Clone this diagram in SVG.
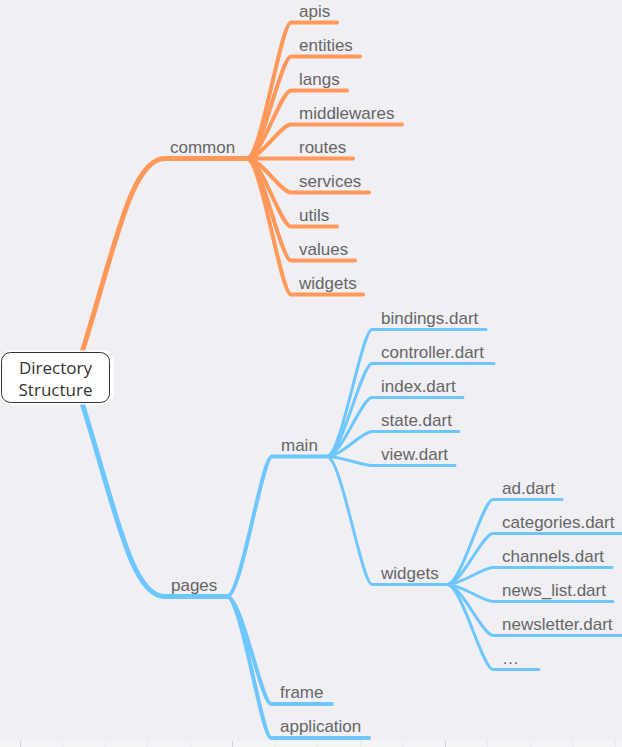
<svg xmlns="http://www.w3.org/2000/svg" width="622" height="747" viewBox="0 0 622 747">
<style>
.bg{fill:#f0eff4}
.c{fill:none;stroke-linecap:round;stroke-linejoin:round}
.o1{stroke:#ff9859;stroke-width:5}
.o2{stroke:#ff9859;stroke-width:4}
.b1{stroke:#6ec6ff;stroke-width:5}
.b2{stroke:#6ec6ff;stroke-width:4}
.b3{stroke:#6ec6ff;stroke-width:3}
.t{font-family:"Liberation Sans",Arial,sans-serif;font-size:17px;fill:#666}
.rt{font-family:"Open Sans","Noto Sans",sans-serif;font-size:17px;fill:#333;text-anchor:middle}
.tick{stroke:#e9e9ed;stroke-width:1}
.tickm{stroke:#d2d2d7;stroke-width:1}
</style>
<rect class="bg" x="0" y="0" width="622" height="747"/>
<g id="ruler">
<rect x="0" y="741" width="622" height="6" fill="#f5f5f7"/>
<path class="tickm" d="M20.5 741V747M232.5 741V747M445.5 741V747"/>
<path class="tick" d="M62.5 741V747M105.5 741V747M147.5 741V747M190.5 741V747M275.5 741V747M317.5 741V747M360.5 741V747M402.5 741V747M487.5 741V747M530.5 741V747M572.5 741V747M615.5 741V747"/>
</g>
<g id="connectors">
<path class="c o1" d="M78 365C115 250 130 158.5 165 158.5L247 158.5"/>
<path class="c o2" d="M247 158.5C261.1 158.5 280.9 22.5 291 22.5L337 22.5"/>
<path class="c o2" d="M247 158.5C261.1 158.5 280.9 56.5 291 56.5L360 56.5"/>
<path class="c o2" d="M247 158.5C261.1 158.5 280.9 90.5 291 90.5L347 90.5"/>
<path class="c o2" d="M247 158.5C261.1 158.5 280.9 124.5 291 124.5L402 124.5"/>
<path class="c o2" d="M247 158.5L353 158.5"/>
<path class="c o2" d="M247 158.5C261.1 158.5 280.9 192.5 291 192.5L369 192.5"/>
<path class="c o2" d="M247 158.5C261.1 158.5 280.9 226.5 291 226.5L337 226.5"/>
<path class="c o2" d="M247 158.5C261.1 158.5 280.9 260.5 291 260.5L355 260.5"/>
<path class="c o2" d="M247 158.5C261.1 158.5 280.9 294.5 291 294.5L363 294.5"/>
<path class="c b1" d="M78 390C115 505 130 596.5 165 596.5L227 596.5"/>
<path class="c b2" d="M227 596.5C241.4 596.5 261.7 456.5 272 456.5L327 456.5"/>
<path class="c b2" d="M227 596.5C241.4 596.5 261.7 704 271 704L332 704"/>
<path class="c b2" d="M227 596.5C241.4 596.5 261.7 738 271 738L369 738"/>
<path class="c b3" d="M327 456.5C341.4 456.5 361.7 329.5 372 329.5L486 329.5"/>
<path class="c b3" d="M327 456.5C341.4 456.5 361.7 363.5 372 363.5L494 363.5"/>
<path class="c b3" d="M327 456.5C341.4 456.5 361.7 397.5 372 397.5L463 397.5"/>
<path class="c b3" d="M327 456.5C341.4 456.5 361.7 431.5 372 431.5L459 431.5"/>
<path class="c b3" d="M327 456.5C341.4 456.5 361.7 465.5 372 465.5L455 465.5"/>
<path class="c b3" d="M327 456.5C341.4 456.5 361.7 584.5 372 584.5L447 584.5"/>
<path class="c b3" d="M447 584.5C461.7 584.5 482.4 499.5 493 499.5L562 499.5"/>
<path class="c b3" d="M447 584.5C461.7 584.5 482.4 533.5 493 533.5L630 533.5"/>
<path class="c b3" d="M447 584.5C461.7 584.5 482.4 567.5 493 567.5L612 567.5"/>
<path class="c b3" d="M447 584.5C461.7 584.5 482.4 601.5 493 601.5L613 601.5"/>
<path class="c b3" d="M447 584.5C461.7 584.5 482.4 635.5 493 635.5L630 635.5"/>
<path class="c b3" d="M447 584.5C461.7 584.5 482.4 669.5 493 669.5L539 669.5"/>
</g>
<g id="root">
<rect x="0" y="350.5" width="113.5" height="54" rx="10" fill="#fff"/>
<rect x="1.5" y="352.5" width="108" height="50" rx="9" fill="#fff" stroke="#333" stroke-width="1"/>
<text class="rt" x="55.5" y="374">Directory</text>
<text class="rt" x="55.5" y="396">Structure</text>
</g>
<g id="common"><text class="t" x="170" y="153">common</text></g>
<g id="apis"><text class="t" x="299" y="17">apis</text></g>
<g id="entities"><text class="t" x="299" y="51">entities</text></g>
<g id="langs"><text class="t" x="299" y="85">langs</text></g>
<g id="middlewares"><text class="t" x="299" y="119">middlewares</text></g>
<g id="routes"><text class="t" x="299" y="153">routes</text></g>
<g id="services"><text class="t" x="299" y="187">services</text></g>
<g id="utils"><text class="t" x="299" y="221">utils</text></g>
<g id="values"><text class="t" x="299" y="255">values</text></g>
<g id="common-widgets"><text class="t" x="299" y="289">widgets</text></g>
<g id="pages"><text class="t" x="171" y="591">pages</text></g>
<g id="main"><text class="t" x="281" y="451">main</text></g>
<g id="bindings"><text class="t" x="381" y="324">bindings.dart</text></g>
<g id="controller"><text class="t" x="381" y="358">controller.dart</text></g>
<g id="index"><text class="t" x="381" y="392">index.dart</text></g>
<g id="state"><text class="t" x="381" y="426">state.dart</text></g>
<g id="view"><text class="t" x="381" y="460">view.dart</text></g>
<g id="main-widgets"><text class="t" x="381" y="579">widgets</text></g>
<g id="ad"><text class="t" x="502" y="494">ad.dart</text></g>
<g id="categories"><text class="t" x="502" y="528">categories.dart</text></g>
<g id="channels"><text class="t" x="502" y="562">channels.dart</text></g>
<g id="news_list"><text class="t" x="502" y="596">news_list.dart</text></g>
<g id="newsletter"><text class="t" x="502" y="630">newsletter.dart</text></g>
<g id="more"><text class="t" x="502" y="664">…</text></g>
<g id="frame"><text class="t" x="280" y="698">frame</text></g>
<g id="application"><text class="t" x="280" y="732">application</text></g>
</svg>
